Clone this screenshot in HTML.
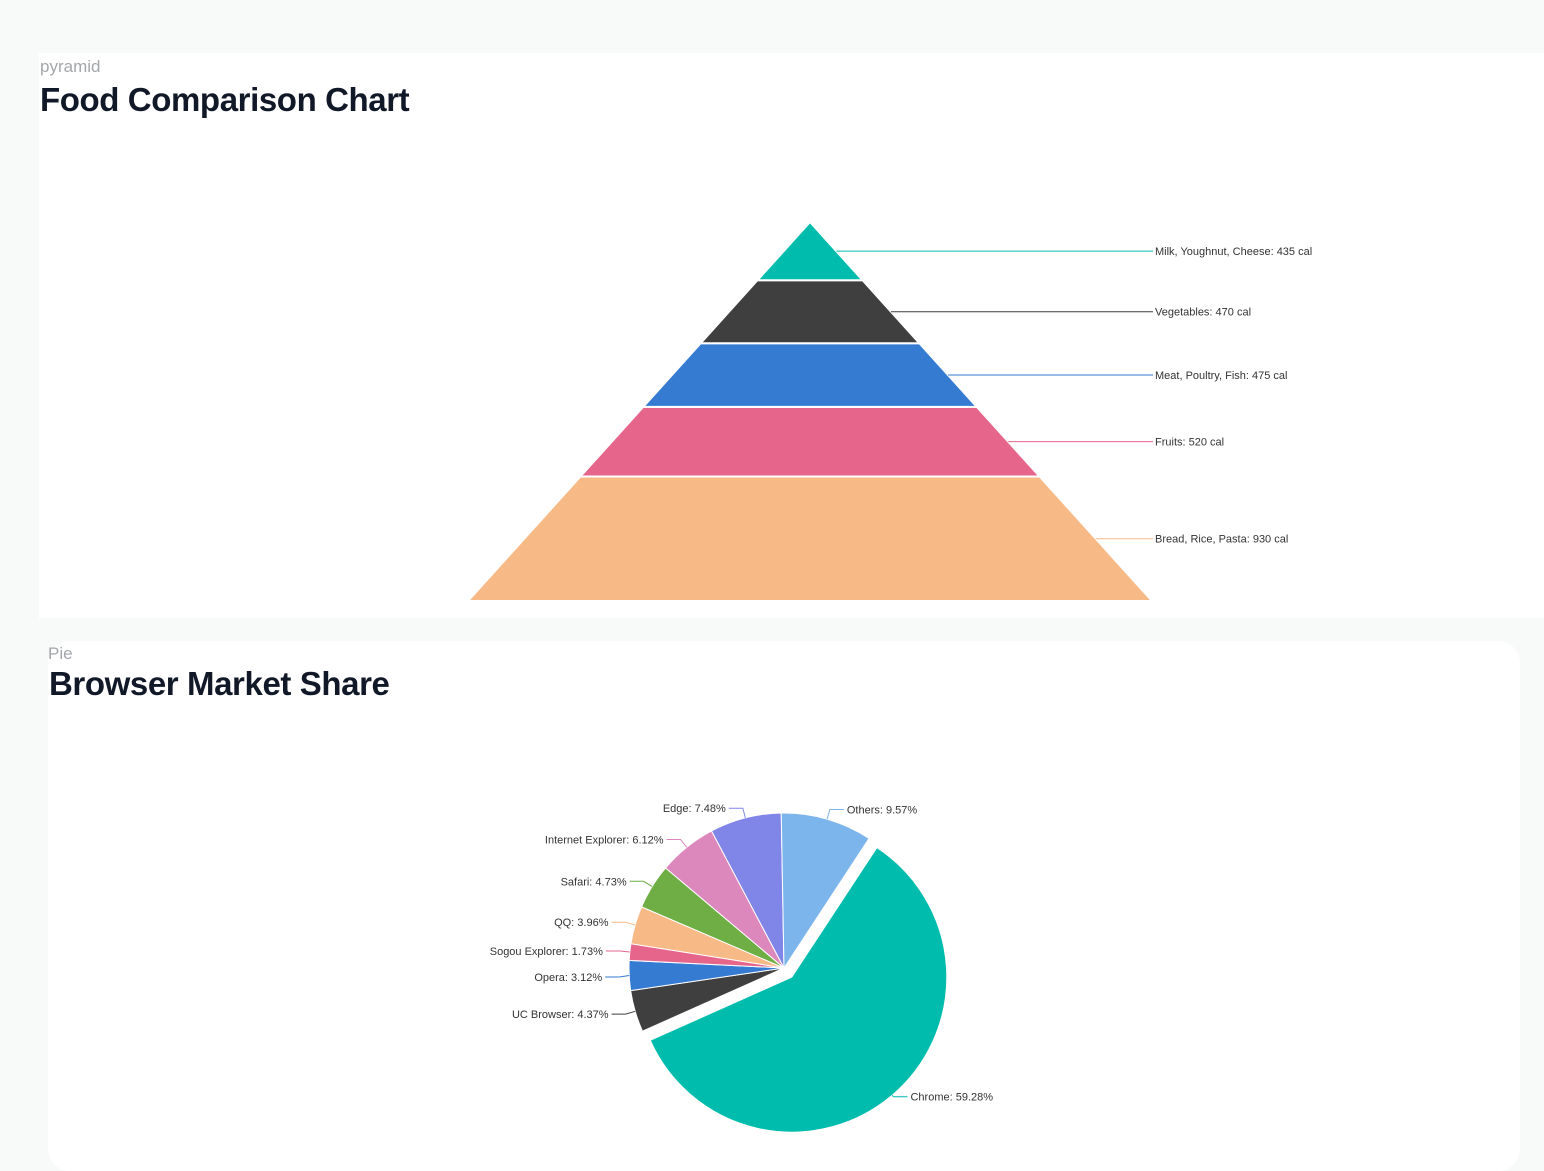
<!DOCTYPE html>
<html><head><meta charset="utf-8"><style>
html,body{margin:0;padding:0;background:#f8f9f9;width:1544px;height:1158px;overflow:hidden;font-family:"Liberation Sans",sans-serif}
.card{position:absolute;background:#fff}
.sub{position:absolute;color:#a3a7ab;font-size:17px}
.title{position:absolute;color:#111827;font-size:33px;font-weight:bold;letter-spacing:-0.4px}
svg{position:absolute;left:0;top:0}
svg text{font-family:"Liberation Sans",sans-serif;font-size:11px;fill:#333}
</style></head><body>
<div class="card" style="left:39px;top:53px;width:1505px;height:565px"></div>
<div class="card" style="left:48px;top:641px;width:1472px;height:530px;border-radius:22px"></div>
<div class="sub" style="left:40px;top:57px">pyramid</div>
<div class="title" style="left:40px;top:81px">Food Comparison Chart</div>
<div class="sub" style="left:48px;top:644px">Pie</div>
<div class="title" style="left:49px;top:665px">Browser Market Share</div>
<svg id="chart" width="1544" height="1158"></svg>
<script>
const pyrCategories=["Bread, Rice, Pasta","Fruits","Meat, Poultry, Fish","Vegetables","Milk, Youghnut, Cheese"];
const pyrValues=[930,520,475,470,435];
const pyrColors=["#f7b985","#e5658b","#367bd2","#3f3f3f","#00bcad"];
const pieCategories=["Chrome","UC Browser","Opera","Sogou Explorer","QQ","Safari","Internet Explorer","Edge","Others"];
const pieValues=[59.28,4.37,3.12,1.73,3.96,4.73,6.12,7.48,9.57];
const pieColors=["#00bcad","#3f3f3f","#367bd2","#e5658b","#f7b985","#6fae45","#dd88bd","#8085e8","#7cb5ec"];
const NS="http://www.w3.org/2000/svg";
const svg=document.getElementById('chart');
function mk(tag,attrs){const e=document.createElementNS(NS,tag);for(const k in attrs)e.setAttribute(k,attrs[k]);svg.appendChild(e);return e;}
// Pyramid
const apexX=810,apexY=222,baseY=601,halfW=342,H=baseY-apexY;
const tot=pyrValues.reduce((a,b)=>a+b,0);
const yScale=v=>v/tot*H;
const xAt=y=>(y-apexY)/H*halfW;
let yb=baseY;
pyrValues.forEach((v,i)=>{
  const yt=yb-yScale(v);
  const p=mk('polygon',{points:`${apexX-xAt(yb)},${yb} ${apexX+xAt(yb)},${yb} ${apexX+xAt(yt)},${yt} ${apexX-xAt(yt)},${yt}`,fill:pyrColors[i],stroke:'#fff','stroke-width':2});
  
  
  const ym=(yb+yt)/2;
  const l=mk('line',{x1:apexX+xAt(ym),y1:ym,x2:1153,y2:ym,stroke:pyrColors[i],'stroke-width':1});
  
  
  const t=mk('text',{x:1155,y:ym+4});
  t.textContent=pyrCategories[i]+": "+pyrValues[i]+" cal";
  
  
  yb=yt;
});
// Pie
const cx=784,cy=968,R=155,startDeg=33.3,explode=12;
const ptot=pieValues.reduce((a,b)=>a+b,0);
const pt=(ang,r,ox,oy)=>{const a=ang*Math.PI/180;return [ox+r*Math.sin(a),oy-r*Math.cos(a)];};
let a0=startDeg;const labels=[];
pieValues.forEach((v,i)=>{
  const sweep=v/ptot*360,a1=a0+sweep,mid=a0+sweep/2;
  let ox=cx,oy=cy;
  if(i===0){const o=pt(mid,explode,cx,cy);ox=o[0];oy=o[1];}
  const p0=pt(a0,R,ox,oy),p1=pt(a1,R,ox,oy);
  const path=mk('path',{d:`M${ox},${oy} L${p0[0]},${p0[1]} A${R},${R} 0 ${sweep>180?1:0} 1 ${p1[0]},${p1[1]} Z`,fill:pieColors[i],stroke:'#fff','stroke-width':1});
  
  
  const an=pt(mid,R,ox,oy);const el=pt(mid,R+(i===0?2:10),ox,oy);
  labels.push({i,an,el,right:Math.sin(mid*Math.PI/180)>=0,y:el[1]});
  a0=a1;
});
function spread(arr,maxY){arr.sort((a,b)=>a.y-b.y);for(let k=1;k<arr.length;k++){if(arr[k].y-arr[k-1].y<26)arr[k].y=arr[k-1].y+26;}
  const over=arr.length?Math.max(0,arr[arr.length-1].y-maxY):0;if(over){for(let k=arr.length-1;k>=0;k--){arr[k].y-=over;if(k>0&&arr[k].y-arr[k-1].y>=26)break;}}}
const left=labels.filter(l=>!l.right),right=labels.filter(l=>l.right);
spread(left,1020);spread(right,2000);
labels.forEach(l=>{
  const dir=l.right?1:-1;const ex=l.el[0]+dir*14;
  const pl=mk('polyline',{points:`${l.an[0]},${l.an[1]} ${l.el[0]},${l.y} ${ex},${l.y}`,fill:'none',stroke:pieColors[l.i],'stroke-width':1});
  
  
  const t=mk('text',{x:ex+dir*3,y:l.y+4,'text-anchor':l.right?'start':'end'});
  t.textContent=pieCategories[l.i]+": "+pieValues[l.i].toFixed(2)+"%";
  
  
});
</script>
</body></html>
